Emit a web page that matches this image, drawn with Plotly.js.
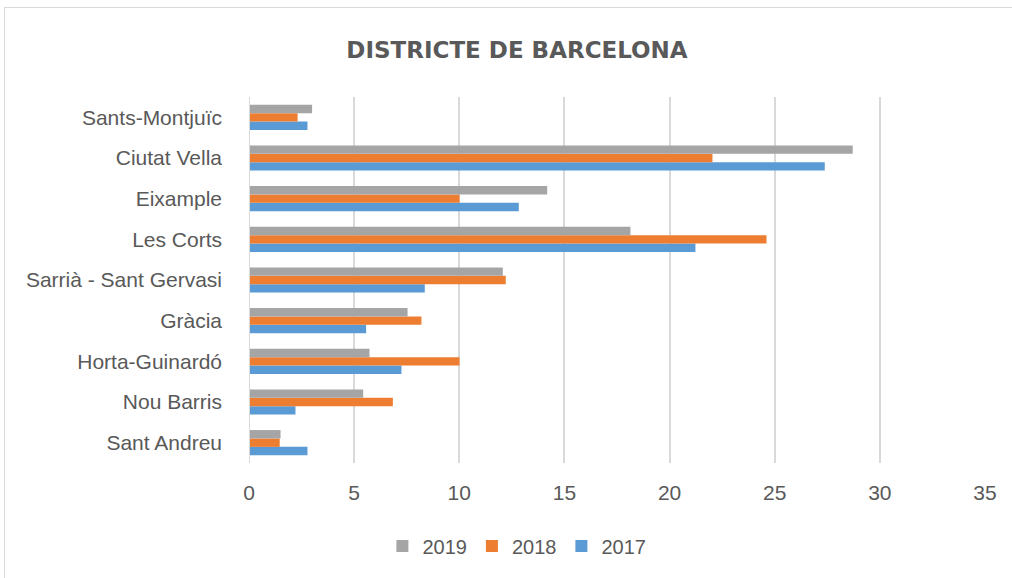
<!DOCTYPE html>
<html>
<head>
<meta charset="utf-8">
<script src="https://cdn.plot.ly/plotly-3.0.1.min.js"></script>
<style>
  html, body { margin: 0; padding: 0; background: #fff; }
  #wrap { position: relative; width: 1012px; height: 578px; overflow: hidden; }
  #chart { width: 1012px; height: 578px; }
  #frame { position: absolute; left: 4px; top: 7px; width: 1020px; height: 600px;
           border: 1.5px solid #d9d9d9; pointer-events: none; box-sizing: border-box; }
</style>
</head>
<body>
<div id="wrap">
  <div id="chart"></div>
  <div id="frame"></div>
</div>
<script>
// Categories listed bottom-to-top
const districts = ["Sant Andreu", "Nou Barris", "Horta-Guinardó", "Gràcia",
  "Sarrià - Sant Gervasi", "Les Corts", "Eixample", "Ciutat Vella", "Sants-Montjuïc"];
const values2017 = [2.78, 2.21, 7.25, 5.57, 8.36, 21.23, 12.83, 27.38, 2.78];
const values2018 = [1.46, 6.84, 10.01, 8.20, 12.21, 24.61, 10.01, 22.04, 2.31];
const values2019 = [1.50, 5.43, 5.73, 7.54, 12.07, 18.14, 14.18, 28.71, 3.00];
const xTicks = [0, 5, 10, 15, 20, 25, 30, 35];
const chartTitle = "DISTRICTE DE BARCELONA";

const traces = [
  { name: "2017", y: districts, x: values2017, type: "bar", orientation: "h",
    marker: { color: "#5B9BD5" } },
  { name: "2018", y: districts, x: values2018, type: "bar", orientation: "h",
    marker: { color: "#ED7D31" } },
  { name: "2019", y: districts, x: values2019, type: "bar", orientation: "h",
    marker: { color: "#A5A5A5" } }
];

const layout = {
  width: 1012, height: 578,
  margin: { l: 249, r: 27, t: 97, b: 115 },
  paper_bgcolor: "#ffffff",
  plot_bgcolor: "#ffffff",
  barmode: "group",
  bargap: 0.38,
  bargroupgap: 0,
  font: { family: "Liberation Sans, Arial, sans-serif", color: "#595959", size: 21 },
  title: {
    text: "<b>" + chartTitle + "</b>",
    font: { family: "DejaVu Sans, sans-serif", size: 23, color: "#595959" },
    x: 517 / 1012, xanchor: "center", xref: "container",
    y: 1 - 50 / 578, yref: "container", yanchor: "middle"
  },
  xaxis: {
    range: [0, 35],
    tickvals: xTicks,
    ticktext: xTicks.map(String),
    showgrid: true, gridcolor: "#d9d9d9", gridwidth: 2,
    zeroline: false, showline: false,
    ticks: "", ticklabelstandoff: 15,
    tickfont: { size: 21, color: "#595959" },
    fixedrange: true
  },
  yaxis: {
    type: "category",
    categoryorder: "array", categoryarray: districts,
    showgrid: false, zeroline: false,
    showline: false,
    ticks: "", ticklabelstandoff: 26,
    tickfont: { size: 21, color: "#595959" },
    fixedrange: true
  },
  shapes: [
    { type: "line", xref: "x", yref: "paper", x0: 0, x1: 0, y0: 0, y1: 1,
      line: { color: "#d9d9d9", width: 2 } }
  ],
  showlegend: true,
  legend: {
    orientation: "h", traceorder: "reversed",
    x: 0.364, xanchor: "center", xref: "paper",
    y: -0.227, yanchor: "middle",
    font: { size: 20, color: "#595959" },
    itemwidth: 30
  }
};

Plotly.newPlot("chart", traces, layout, { displayModeBar: false, staticPlot: true });
</script>
</body>
</html>
